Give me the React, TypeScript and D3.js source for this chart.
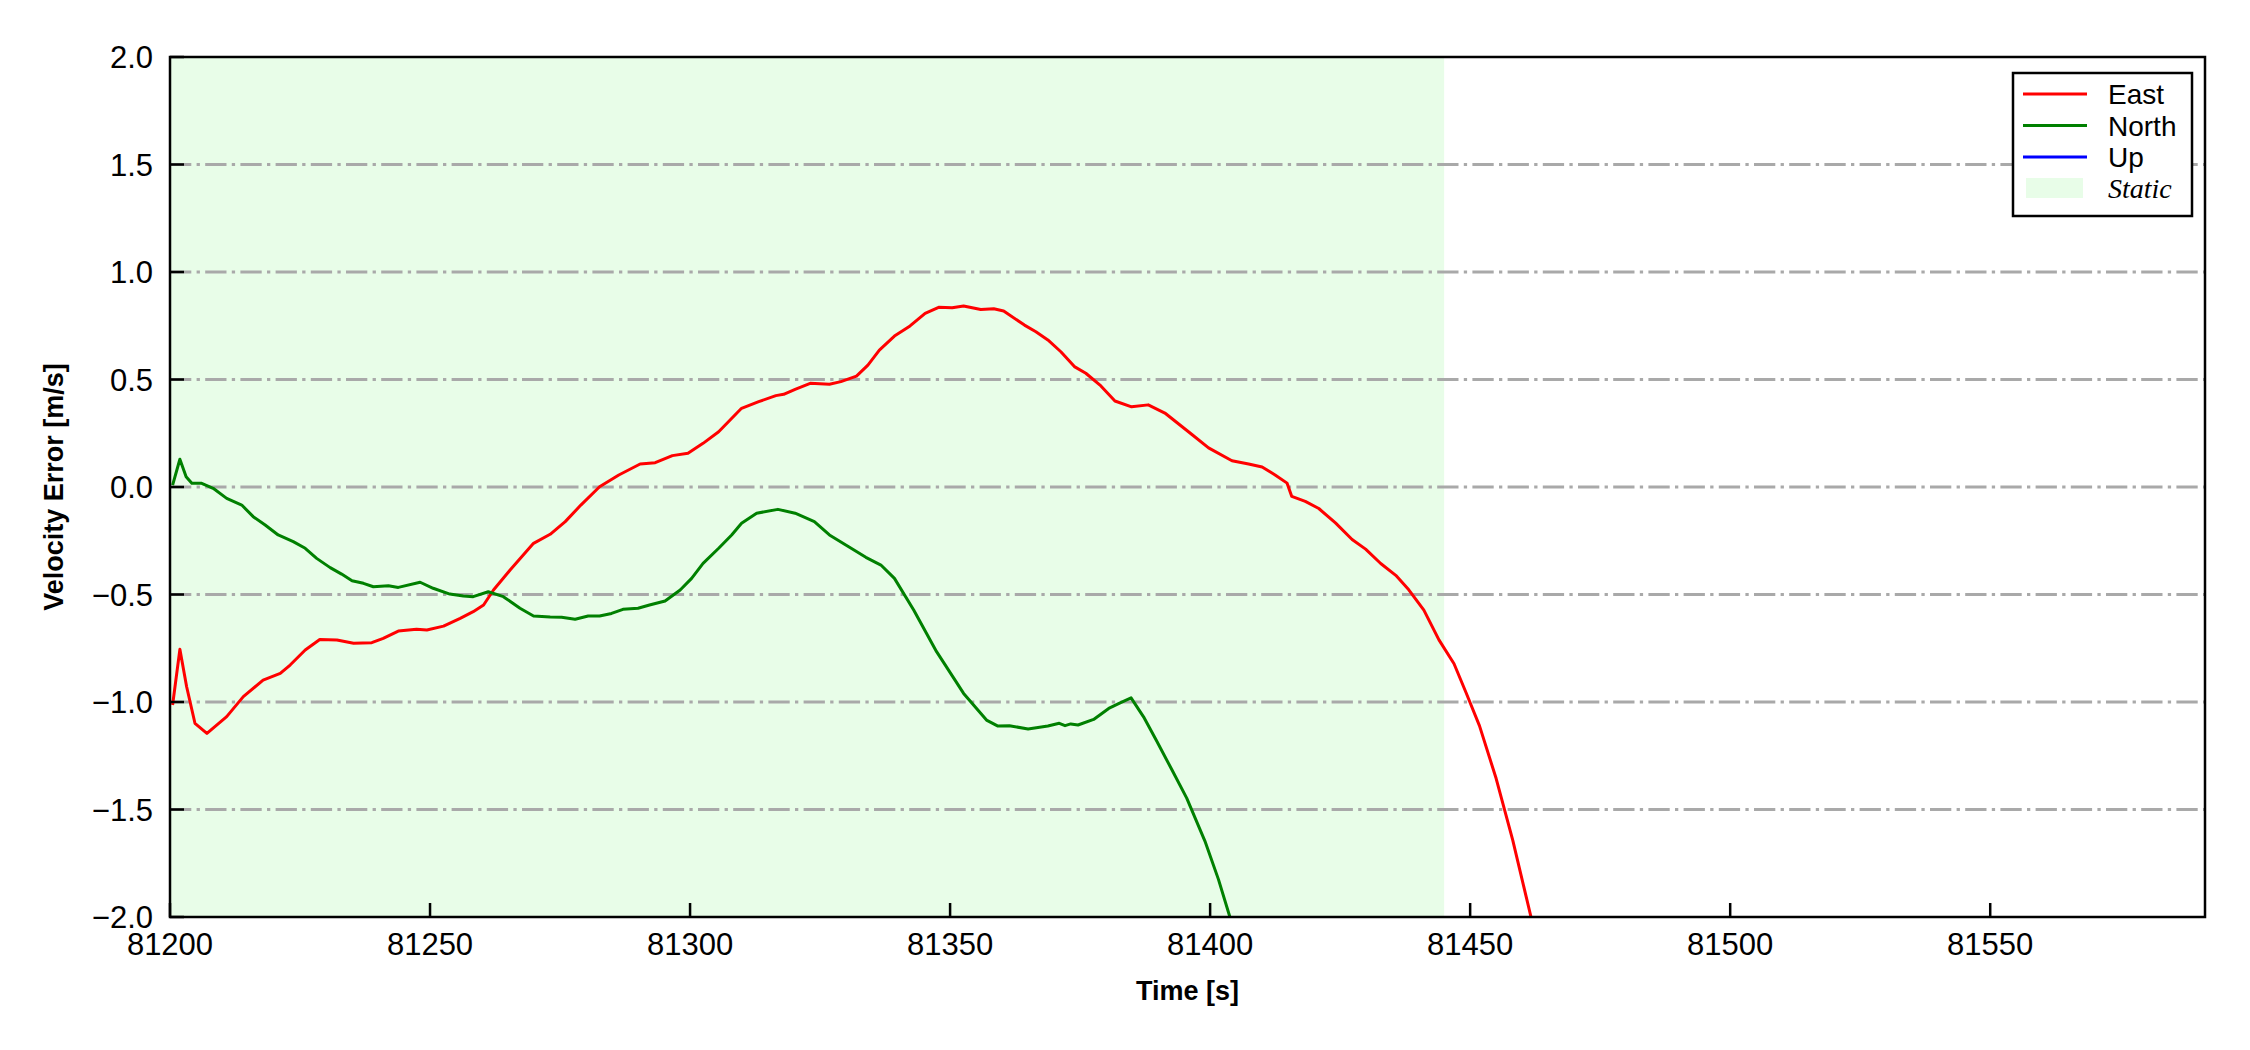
import React from 'react';
import * as d3 from 'd3';

// axis ticks
const xTicks = [81200, 81250, 81300, 81350, 81400, 81450, 81500, 81550];
const yTicks = [-2, -1.5, -1, -0.5, 0, 0.5, 1, 1.5, 2];

// static period (shaded)
const staticSpan = [81200, 81445];

// East velocity error
const eastTime = [
  81200.5, 81201.9, 81203.2, 81204.8, 81207.1, 81210.9, 81214.1, 81217.9, 81221.2, 81223.1,
  81226.0, 81228.8, 81232.1, 81235.3, 81238.8, 81241.0, 81243.9, 81247.4, 81249.4, 81252.6,
  81255.8, 81258.3, 81260.3, 81262.2, 81265.4, 81269.9, 81273.1, 81276.0, 81279.0, 81282.6,
  81286.3, 81290.4, 81293.3, 81296.6, 81299.6, 81302.5, 81305.5, 81307.7, 81309.9, 81313.2,
  81316.5, 81318.0, 81320.2, 81323.1, 81326.8, 81329.0, 81332.0, 81334.2, 81336.4, 81339.3,
  81342.3, 81345.2, 81347.8, 81350.4, 81352.6, 81355.9, 81358.4, 81360.3, 81364.3, 81366.5,
  81368.8, 81371.3, 81373.9, 81376.1, 81379.0, 81381.7, 81384.9, 81388.1, 81391.3, 81396.5,
  81399.7, 81404.2, 81407.4, 81410.0, 81412.5, 81414.8, 81415.7, 81418.3, 81420.9, 81424.1,
  81427.3, 81429.9, 81432.8, 81435.7, 81438.2, 81441.1, 81444.0, 81446.9, 81449.2, 81451.8,
  81455.0, 81458.2, 81461.7,
];
const eastVel = [
  -1.014, -0.755, -0.929, -1.099, -1.146, -1.068, -0.975, -0.898, -0.867, -0.828,
  -0.758, -0.709, -0.712, -0.727, -0.724, -0.704, -0.670, -0.662, -0.665, -0.647,
  -0.611, -0.580, -0.549, -0.479, -0.386, -0.262, -0.220, -0.161, -0.084, 0.001,
  0.056, 0.107, 0.113, 0.146, 0.157, 0.203, 0.257, 0.312, 0.366, 0.397,
  0.425, 0.431, 0.454, 0.482, 0.478, 0.490, 0.516, 0.567, 0.637, 0.702,
  0.749, 0.808, 0.836, 0.834, 0.842, 0.826, 0.829, 0.819, 0.753, 0.722,
  0.684, 0.629, 0.560, 0.529, 0.470, 0.400, 0.373, 0.382, 0.344, 0.244,
  0.182, 0.122, 0.107, 0.093, 0.056, 0.018, -0.044, -0.067, -0.100, -0.167,
  -0.244, -0.289, -0.356, -0.411, -0.478, -0.573, -0.711, -0.822, -0.956, -1.111,
  -1.356, -1.644, -2.0,
];

// North velocity error
const northTime = [
  81200.5, 81201.9, 81203.1, 81204.2, 81206.1, 81208.3, 81210.9, 81213.8, 81216.0, 81218.3,
  81220.8, 81223.7, 81226.0, 81228.2, 81230.8, 81233.0, 81235.0, 81237.2, 81239.1, 81242.0,
  81243.9, 81248.1, 81250.6, 81253.8, 81256.4, 81258.3, 81261.2, 81264.1, 81267.3, 81269.9,
  81273.1, 81275.3, 81277.9, 81280.4, 81282.6, 81284.9, 81287.1, 81290.0, 81292.2, 81295.2,
  81298.1, 81300.3, 81302.5, 81305.5, 81308.0, 81309.9, 81312.8, 81316.9, 81320.2, 81323.9,
  81326.8, 81330.5, 81333.8, 81336.7, 81339.3, 81343.0, 81347.4, 81352.6, 81357.0, 81359.2,
  81361.4, 81365.0, 81368.8, 81371.0, 81372.1, 81373.2, 81374.6, 81377.6, 81380.5, 81382.7,
  81384.8, 81387.2, 81389.7, 81392.6, 81395.5, 81399.0, 81401.6, 81403.8,
];
const northVel = [
  0.009, 0.129, 0.048, 0.017, 0.017, -0.006, -0.053, -0.084, -0.138, -0.177,
  -0.223, -0.254, -0.285, -0.332, -0.375, -0.405, -0.436, -0.448, -0.464, -0.459,
  -0.467, -0.443, -0.471, -0.498, -0.507, -0.510, -0.487, -0.510, -0.564, -0.600,
  -0.605, -0.606, -0.615, -0.600, -0.600, -0.588, -0.569, -0.564, -0.549, -0.530,
  -0.479, -0.425, -0.355, -0.285, -0.223, -0.169, -0.122, -0.104, -0.122, -0.161,
  -0.223, -0.278, -0.327, -0.363, -0.425, -0.572, -0.766, -0.960, -1.084, -1.112,
  -1.110, -1.126, -1.112, -1.099, -1.110, -1.102, -1.107, -1.081, -1.030, -1.004,
  -0.981, -1.069, -1.180, -1.313, -1.447, -1.647, -1.825, -2.0,
];

// Up has no samples inside the visible range
const upTime: number[] = [];
const upVel: number[] = [];

const series = [
  { name: 'East', color: '#ff0000', t: eastTime, v: eastVel },
  { name: 'North', color: '#008000', t: northTime, v: northVel },
  { name: 'Up', color: '#0000ff', t: upTime, v: upVel },
];

const W = 2250;
const H = 1050;
const plot = { left: 170, top: 57, right: 2205, bottom: 917 };
const staticFill = '#e8fde8';
const sans = '"Liberation Sans", Arial, sans-serif';

export default function App() {
  const x = d3.scaleLinear().domain([81200, 81591.3]).range([plot.left, plot.right]);
  const y = d3.scaleLinear().domain([-2, 2]).range([plot.bottom, plot.top]);
  const fmt = d3.format('.1f');

  const line = d3
    .line<[number, number]>()
    .x((d) => x(d[0]))
    .y((d) => y(d[1]));

  const legendX = 2013;
  const legendY = 73;

  return (
    <svg
      width={W}
      height={H}
      style={{ position: 'absolute', left: 0, top: 0, background: '#fff' }}
      fontFamily={sans}
    >
      <defs>
        <clipPath id="plotClip">
          <rect x={plot.left} y={plot.top} width={plot.right - plot.left} height={plot.bottom - plot.top} />
        </clipPath>
      </defs>

      {/* static shading */}
      <rect
        x={x(staticSpan[0])}
        y={plot.top}
        width={x(staticSpan[1]) - x(staticSpan[0])}
        height={plot.bottom - plot.top}
        fill={staticFill}
      />

      {/* grid */}
      {yTicks
        .filter((t) => t > -2 && t < 2)
        .map((t) => (
          <line
            key={'g' + t}
            x1={plot.left}
            x2={plot.right}
            y1={y(t)}
            y2={y(t)}
            stroke="#a9a9a9"
            strokeWidth={3}
            strokeDasharray="21.3 5.3 3.3 5.3"
          />
        ))}

      {/* data */}
      <g clipPath="url(#plotClip)">
        {series.map((s) => (
          <path
            key={s.name}
            d={line(s.t.map((t, i) => [t, s.v[i]] as [number, number])) || ''}
            fill="none"
            stroke={s.color}
            strokeWidth={3}
            strokeLinejoin="round"
          />
        ))}
      </g>

      {/* frame */}
      <rect
        x={plot.left}
        y={plot.top}
        width={plot.right - plot.left}
        height={plot.bottom - plot.top}
        fill="none"
        stroke="#000"
        strokeWidth={2.5}
      />

      {/* y ticks */}
      {yTicks.map((t) => (
        <g key={'y' + t}>
          <line x1={plot.left} x2={plot.left + 14} y1={y(t)} y2={y(t)} stroke="#000" strokeWidth={2.5} />
          <text x={plot.left - 17} y={y(t)} dy="0.36em" textAnchor="end" fontSize={31}>
            {fmt(t)}
          </text>
        </g>
      ))}

      {/* x ticks */}
      {xTicks.map((t) => (
        <g key={'x' + t}>
          <line x1={x(t)} x2={x(t)} y1={plot.bottom} y2={plot.bottom - 14} stroke="#000" strokeWidth={2.5} />
          <text x={x(t)} y={955} textAnchor="middle" fontSize={31}>
            {t}
          </text>
        </g>
      ))}

      {/* axis labels */}
      <text x={(plot.left + plot.right) / 2} y={1000} textAnchor="middle" fontSize={27} fontWeight="bold">
        Time [s]
      </text>
      <text
        transform={`translate(63,${(plot.top + plot.bottom) / 2}) rotate(-90)`}
        textAnchor="middle"
        fontSize={27}
        fontWeight="bold"
      >
        Velocity Error [m/s]
      </text>

      {/* legend */}
      <g>
        <rect x={legendX} y={legendY} width={179} height={143} fill="#fff" stroke="#000" strokeWidth={2.5} />
        {series.map((s, i) => (
          <g key={'l' + s.name}>
            <line
              x1={legendX + 10}
              x2={legendX + 74}
              y1={legendY + 21 + i * 31.5}
              y2={legendY + 21 + i * 31.5}
              stroke={s.color}
              strokeWidth={3}
            />
            <text x={legendX + 95} y={legendY + 21 + i * 31.5} dy="0.36em" fontSize={28}>
              {s.name}
            </text>
          </g>
        ))}
        <rect x={legendX + 13} y={legendY + 105} width={57} height={20} fill={staticFill} />
        <text
          x={legendX + 95}
          y={legendY + 115}
          dy="0.36em"
          fontSize={28}
          fontStyle="italic"
          fontFamily='"Liberation Serif", "Times New Roman", serif'
        >
          Static
        </text>
      </g>
    </svg>
  );
}
